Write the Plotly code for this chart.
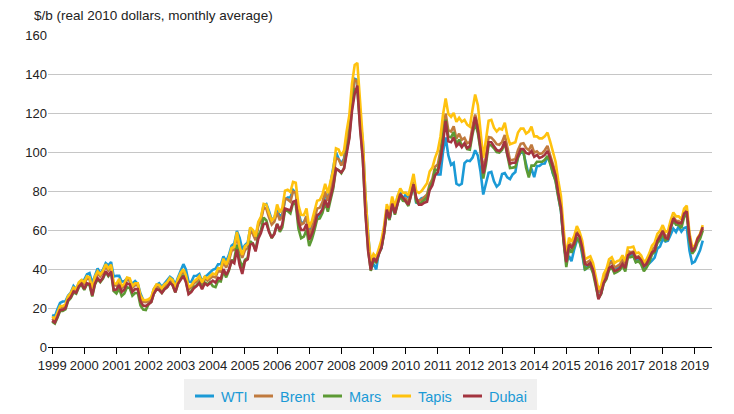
import pandas as pd
import plotly.graph_objects as go

# Monthly dates Jan 1999 - Apr 2019
months = pd.date_range("1999-01-01", "2019-04-01", freq="MS")

year_ticks = [str(y) for y in range(1999, 2020)]

wti = [
    16.4, 15.7, 19.2, 22.6, 23.3, 23.4, 26.3, 27.9, 31.3, 29.6, 32.7, 34.2,
    34.5, 37.3, 37.9, 32.6, 36.5, 40.3, 37.6, 39.7, 43.0, 41.9, 43.6, 36.1,
    36.5, 36.5, 33.5, 33.8, 35.2, 34.0, 32.5, 33.8, 32.3, 27.4, 24.1, 23.8,
    23.9, 25.1, 29.6, 31.8, 32.7, 30.9, 32.6, 34.4, 36.0, 35.0, 31.9, 35.6,
    39.0, 42.5, 39.8, 33.5, 33.3, 36.4, 36.5, 37.4, 33.5, 35.9, 36.9, 38.0,
    39.6, 40.1, 42.4, 42.4, 46.5, 43.9, 47.0, 51.9, 53.1, 59.5, 56.0, 50.0,
    52.3, 53.6, 60.7, 59.2, 55.6, 63.0, 65.9, 72.6, 73.3, 69.7, 65.1, 66.3,
    70.9, 66.7, 68.1, 75.4, 76.7, 76.7, 80.5, 79.0, 69.0, 63.7, 63.9, 67.1,
    57.4, 62.4, 63.5, 67.3, 66.8, 71.0, 78.0, 76.2, 84.1, 90.3, 99.7, 96.5,
    94.2, 96.6, 106.9, 114.1, 127.0, 137.5, 137.0, 118.2, 105.5, 77.6, 58.0, 41.6,
    42.4, 39.8, 48.7, 50.5, 60.0, 70.8, 65.3, 72.3, 70.6, 77.0, 79.3, 75.8,
    78.3, 76.4, 81.2, 84.3, 73.7, 75.3, 76.3, 76.6, 75.2, 81.9, 84.3, 89.2,
    88.5, 88.5, 99.8, 107.5, 98.3, 93.4, 94.4, 83.7, 82.9, 83.7, 94.3, 95.6,
    95.3, 97.1, 100.9, 98.1, 90.0, 78.2, 83.5, 89.4, 89.8, 85.0, 82.2, 83.5,
    88.7, 89.2, 87.0, 86.1, 88.5, 89.7, 97.9, 99.8, 99.5, 94.1, 87.9, 91.4,
    87.1, 92.8, 92.8, 94.0, 94.1, 97.4, 95.4, 88.9, 85.8, 77.7, 69.8, 54.6,
    43.4, 46.6, 44.0, 50.1, 54.6, 55.0, 46.8, 39.5, 41.9, 42.5, 39.0, 34.2,
    28.8, 27.5, 34.1, 37.1, 42.5, 44.4, 40.6, 40.6, 41.1, 45.3, 41.5, 47.3,
    46.7, 47.6, 43.9, 45.5, 43.2, 40.2, 41.5, 42.7, 44.3, 45.9, 50.4, 51.5,
    55.4, 54.1, 54.5, 57.6, 60.8, 59.0, 61.7, 59.2, 61.0, 61.5, 49.5, 43.0,
    43.8, 46.8, 49.6, 54.5,
]

brent = [
    14.5, 13.5, 16.4, 20.0, 20.0, 20.8, 25.0, 26.6, 29.5, 28.8, 32.2, 33.4,
    32.3, 35.2, 34.8, 28.9, 35.0, 37.8, 36.2, 38.1, 41.4, 39.3, 41.2, 31.7,
    31.5, 33.9, 30.2, 31.5, 34.6, 34.2, 30.3, 31.7, 31.7, 25.3, 23.2, 23.0,
    23.5, 24.6, 28.7, 31.1, 30.8, 29.2, 31.1, 32.2, 34.4, 33.3, 29.5, 33.9,
    37.0, 38.9, 35.9, 29.6, 30.6, 32.7, 33.7, 35.3, 32.1, 35.1, 34.1, 35.3,
    36.2, 35.7, 39.0, 38.6, 43.8, 40.7, 44.1, 49.3, 49.9, 57.5, 49.8, 45.7,
    49.7, 50.8, 59.3, 58.0, 54.7, 62.1, 64.7, 71.4, 70.9, 66.5, 62.8, 64.3,
    69.1, 65.0, 67.4, 76.2, 75.7, 74.5, 79.7, 79.2, 67.6, 62.8, 63.6, 67.1,
    57.3, 60.8, 65.3, 71.0, 71.4, 74.3, 79.7, 74.9, 81.0, 86.8, 96.9, 96.3,
    93.1, 95.8, 104.6, 111.8, 127.0, 137.0, 136.0, 115.4, 100.4, 73.7, 53.9, 42.1,
    45.7, 44.1, 48.5, 51.9, 59.1, 70.3, 66.1, 74.2, 68.9, 74.4, 78.3, 76.0,
    76.2, 73.8, 78.8, 84.8, 75.9, 74.8, 75.6, 77.1, 78.2, 83.5, 86.1, 92.4,
    93.6, 100.6, 111.2, 119.6, 111.1, 110.5, 113.2, 106.9, 109.4, 106.3, 107.2, 104.5,
    105.2, 113.3, 119.2, 113.7, 104.8, 90.4, 97.5, 107.7, 107.4, 105.9, 104.0, 103.7,
    105.1, 108.7, 101.6, 95.8, 96.0, 96.3, 101.0, 104.2, 104.5, 102.1, 100.9, 103.7,
    99.6, 100.3, 99.0, 99.3, 100.9, 103.1, 98.4, 93.6, 89.4, 80.5, 73.1, 57.4,
    44.0, 53.5, 51.4, 54.7, 59.2, 56.6, 52.1, 42.8, 43.8, 44.5, 40.8, 35.0,
    28.0, 30.2, 35.5, 37.8, 42.5, 43.8, 40.8, 41.5, 42.4, 44.8, 41.7, 49.2,
    48.6, 49.0, 45.9, 46.5, 44.8, 41.3, 43.2, 46.0, 50.0, 51.2, 55.8, 57.3,
    60.0, 56.7, 57.4, 62.7, 66.8, 64.7, 64.6, 63.0, 68.6, 70.4, 56.3, 49.9,
    50.7, 54.6, 56.4, 60.7,
]

mars = [
    13.0, 12.0, 14.9, 18.5, 18.5, 19.3, 23.5, 25.1, 28.0, 27.3, 30.7, 31.9,
    29.3, 32.2, 31.8, 25.9, 32.0, 34.8, 33.2, 35.1, 38.4, 36.3, 38.2, 28.7,
    27.5, 29.9, 26.2, 27.5, 30.6, 30.2, 26.3, 27.7, 27.7, 21.3, 19.2, 19.0,
    22.0, 23.1, 27.2, 29.6, 29.3, 27.7, 29.6, 30.7, 32.9, 31.8, 28.0, 32.4,
    35.0, 36.9, 33.9, 27.6, 28.6, 30.7, 31.7, 33.3, 30.1, 33.1, 32.1, 33.3,
    31.2, 30.7, 34.0, 33.6, 38.8, 35.7, 39.1, 44.3, 44.9, 52.5, 44.8, 40.7,
    44.7, 45.8, 54.3, 53.0, 49.7, 57.1, 59.7, 66.4, 64.9, 59.5, 55.8, 58.3,
    63.1, 59.0, 61.4, 70.2, 69.7, 68.5, 73.7, 73.2, 60.6, 55.8, 56.6, 60.1,
    51.8, 55.3, 59.8, 65.5, 65.9, 68.8, 74.2, 69.4, 75.5, 81.3, 91.4, 90.8,
    89.1, 91.8, 100.6, 107.8, 123.0, 132.0, 131.5, 111.4, 96.4, 69.7, 49.9, 39.0,
    44.7, 43.1, 47.5, 50.9, 58.1, 69.3, 65.1, 73.2, 67.9, 73.4, 77.3, 75.0,
    74.7, 72.3, 77.3, 83.3, 74.4, 73.3, 74.1, 75.6, 76.7, 82.0, 84.6, 90.9,
    90.6, 97.6, 108.2, 116.6, 108.1, 107.5, 110.2, 103.9, 106.4, 103.3, 104.2, 101.5,
    101.2, 109.3, 115.2, 109.7, 100.8, 86.4, 93.5, 103.7, 103.4, 101.9, 100.0, 99.7,
    101.1, 104.7, 97.6, 91.8, 92.0, 92.3, 97.0, 100.2, 100.5, 92.0, 87.0, 93.0,
    93.0, 95.0, 95.0, 95.0, 96.0, 98.0, 94.0, 89.0, 85.0, 77.0, 70.0, 54.0,
    41.0, 50.5, 48.4, 51.7, 56.2, 53.6, 49.1, 39.8, 40.8, 41.5, 37.8, 32.0,
    25.0, 27.2, 32.5, 34.8, 39.5, 40.8, 37.8, 38.5, 39.4, 41.8, 38.7, 46.2,
    46.1, 46.5, 43.4, 44.0, 42.3, 38.8, 40.7, 43.5, 47.5, 48.7, 53.3, 54.8,
    58.0, 54.7, 55.4, 60.7, 64.8, 62.7, 62.6, 61.0, 66.6, 68.4, 54.3, 47.9,
    49.7, 53.6, 55.4, 59.7,
]

tapis = [
    15.5, 14.5, 17.4, 21.0, 21.0, 21.8, 26.0, 27.6, 30.5, 29.8, 33.2, 34.4,
    33.3, 36.2, 35.8, 29.9, 36.0, 38.8, 37.2, 39.1, 42.4, 40.3, 42.2, 32.7,
    32.5, 34.9, 31.2, 32.5, 35.6, 35.2, 31.3, 32.7, 32.7, 26.3, 24.2, 24.0,
    24.5, 25.6, 29.7, 32.1, 31.8, 30.2, 32.1, 33.2, 35.4, 34.3, 30.5, 34.9,
    38.0, 39.9, 36.9, 30.6, 31.6, 33.7, 34.7, 36.3, 33.1, 36.1, 35.1, 36.3,
    37.7, 37.2, 40.5, 40.1, 45.3, 42.2, 45.6, 50.8, 51.4, 59.0, 51.3, 47.2,
    51.7, 52.8, 61.3, 60.0, 56.7, 64.1, 66.7, 73.4, 72.9, 68.5, 64.8, 66.3,
    73.1, 69.0, 71.4, 80.2, 80.7, 79.5, 84.7, 84.2, 72.6, 67.8, 67.6, 71.1,
    61.3, 64.8, 69.3, 75.0, 75.4, 78.3, 83.7, 78.9, 85.0, 90.8, 101.9, 101.3,
    98.1, 100.8, 110.6, 118.8, 135.0, 144.6, 145.7, 124.4, 106.4, 77.7, 56.9, 44.1,
    47.7, 46.1, 50.5, 54.9, 62.1, 73.3, 69.1, 77.2, 71.9, 77.4, 81.3, 79.0,
    79.2, 77.8, 82.8, 88.8, 79.9, 79.0, 80.0, 82.0, 84.0, 90.0, 92.0, 97.0,
    100.6, 108.0, 119.0, 127.5, 119.5, 118.0, 120.0, 115.5, 117.5, 115.5, 116.5, 114.0,
    113.0, 122.0, 129.5, 124.0, 112.0, 97.0, 106.0, 116.0, 116.5, 112.5, 110.5, 112.0,
    111.5, 115.0, 108.5, 104.0, 104.5, 105.0, 110.0, 112.0, 112.0, 109.5, 110.5, 113.0,
    108.0, 108.0, 107.0, 107.0, 108.0, 110.0, 105.5, 100.5, 95.0, 85.5, 77.5, 61.0,
    46.0, 56.0, 54.0, 57.0, 62.0, 59.0, 54.5, 45.0, 46.0, 46.5, 43.0, 37.0,
    29.5, 31.5, 37.5, 40.0, 45.0, 46.0, 43.0, 44.0, 44.5, 47.0, 44.0, 51.0,
    51.0, 51.5, 48.0, 48.5, 47.0, 43.5, 45.0, 48.0, 52.0, 53.5, 58.0, 59.5,
    62.5, 59.0, 59.5, 65.0, 69.0, 67.0, 67.0, 65.5, 71.0, 72.5, 58.5, 51.5,
    52.0, 56.0, 58.0, 62.5,
]

dubai = [
    13.5, 12.5, 15.4, 19.0, 19.0, 19.8, 24.0, 25.6, 28.5, 27.8, 31.2, 32.4,
    29.8, 32.7, 32.3, 26.4, 32.5, 35.3, 33.7, 35.6, 38.9, 36.8, 38.7, 29.2,
    29.5, 31.9, 28.2, 29.5, 32.6, 32.2, 28.3, 29.7, 29.7, 23.3, 21.2, 21.0,
    22.0, 23.1, 27.2, 29.6, 29.3, 27.7, 29.6, 30.7, 32.9, 31.8, 28.0, 32.4,
    34.5, 36.4, 33.4, 27.1, 28.1, 30.2, 31.2, 32.8, 29.6, 32.6, 31.6, 32.8,
    34.0, 33.0, 35.5, 35.0, 40.0, 37.0, 39.5, 44.0, 43.0, 50.0, 42.0, 37.5,
    44.0, 45.0, 52.5, 53.0, 49.0, 55.5, 58.5, 63.0, 63.5, 59.0, 56.0, 58.0,
    63.0, 60.0, 63.0, 71.0, 70.5, 70.0, 74.5, 75.0, 64.0, 60.0, 60.0, 63.0,
    55.0, 58.0, 62.0, 67.5, 68.5, 70.5, 75.5, 71.5, 77.0, 82.5, 91.5, 90.5,
    89.5, 91.5, 100.0, 107.0, 121.0, 130.0, 134.0, 112.0, 97.0, 68.5, 49.0, 39.5,
    45.5, 44.0, 47.5, 51.0, 58.5, 70.5, 66.0, 73.5, 68.5, 74.0, 78.5, 76.5,
    75.0, 73.0, 77.5, 83.5, 76.5, 73.0, 73.0, 74.0, 74.5, 80.5, 83.0, 88.0,
    89.5, 96.0, 104.5, 116.0, 105.5, 105.0, 107.5, 103.0, 104.5, 102.5, 104.5, 102.0,
    103.0, 111.0, 118.0, 111.5, 102.0, 89.0, 95.5, 105.0, 105.0, 103.0, 101.0, 100.5,
    102.0, 105.5, 99.0, 94.0, 94.5, 94.5, 98.0, 101.5, 101.5, 99.5, 99.0, 100.5,
    97.5, 98.5, 97.0, 97.5, 98.5, 100.5, 97.0, 92.5, 88.0, 79.0, 71.5, 55.5,
    43.5, 52.5, 51.0, 53.0, 58.5, 56.5, 51.0, 42.5, 42.0, 43.0, 39.5, 33.0,
    24.5, 27.5, 33.0, 35.5, 40.5, 41.5, 39.0, 39.5, 40.5, 42.5, 40.5, 47.0,
    48.0, 48.5, 45.5, 46.0, 44.5, 41.5, 42.5, 45.5, 48.5, 49.5, 54.5, 56.5,
    59.5, 56.0, 55.5, 61.5, 66.0, 64.0, 63.5, 63.5, 68.5, 69.5, 56.5, 49.0,
    51.0, 55.5, 57.5, 61.5,
]

series_names = ["WTI", "Brent", "Mars", "Tapis", "Dubai"]
series_values = [wti, brent, mars, tapis, dubai]
series_colors = ["#1b9ad6", "#c07a3e", "#5c9a34", "#ffc20e", "#a3343f"]

# plot-area geometry (pixels) used for the hand-placed legend
L, R, T, B = 48, 22, 35, 67
W, H = 734, 414
PW, PH = W - L - R, H - T - B


def px(x):
    return (x - L) / PW


def py(y):
    return (H - B - y) / PH


fig = go.Figure()
for name, vals, color in zip(series_names, series_values, series_colors):
    fig.add_trace(go.Scatter(
        x=months, y=vals, name=name, mode="lines",
        line=dict(color=color, width=2.6), showlegend=False,
    ))

# legend box + entries
shapes = [dict(type="rect", xref="paper", yref="paper",
               x0=px(184), x1=px(537), y0=py(410), y1=py(379),
               fillcolor="#f0f0f0", line=dict(width=0), layer="below")]
annotations = [dict(
    text="$/b (real 2010 dollars, monthly average)", xref="paper", yref="paper",
    x=px(32), y=py(15), xanchor="left", yanchor="middle", showarrow=False,
    font=dict(size=13.5, color="#222"),
)]
line_starts = [195, 254, 323, 392, 463]
for name, color, x0 in zip(series_names, series_colors, line_starts):
    shapes.append(dict(type="line", xref="paper", yref="paper",
                       x0=px(x0), x1=px(x0 + 19), y0=py(396), y1=py(396),
                       line=dict(color=color, width=3)))
    annotations.append(dict(text=name, xref="paper", yref="paper",
                            x=px(x0 + 24), y=py(396.5), xanchor="left", yanchor="middle",
                            showarrow=False,
                            font=dict(size=14.5, color="#1b9ad6")))

fig.update_layout(
    width=W, height=H,
    margin=dict(l=L, r=R, t=T, b=B, autoexpand=False),
    paper_bgcolor="white", plot_bgcolor="white",
    font=dict(family="Liberation Sans, Arial, sans-serif", size=13, color="#222"),
    showlegend=False,
    shapes=shapes,
    annotations=annotations,
)

fig.update_xaxes(
    type="date", range=["1998-11-15", "2019-07-15"],
    tickvals=[f"{y}-01-01" for y in year_ticks], ticktext=year_ticks,
    ticks="outside", ticklen=6, tickcolor="black", tickwidth=1,
    showline=True, linecolor="black", linewidth=1,
    showgrid=False, zeroline=False, tickfont=dict(size=13),
)
fig.update_yaxes(
    range=[0, 160], dtick=20, showgrid=True, gridcolor="#c6c6c6", gridwidth=1,
    zeroline=False, showline=False, ticks="", tickfont=dict(size=13),
)

fig.write_html("out.html", config={"displayModeBar": False})

# remove default page margin so the figure sits at the window origin
with open("out.html", encoding="utf-8") as f:
    html = f.read()
html = html.replace("<head>", "<head><style>html,body{margin:0;padding:0;}</style>", 1)
with open("out.html", "w", encoding="utf-8") as f:
    f.write(html)
